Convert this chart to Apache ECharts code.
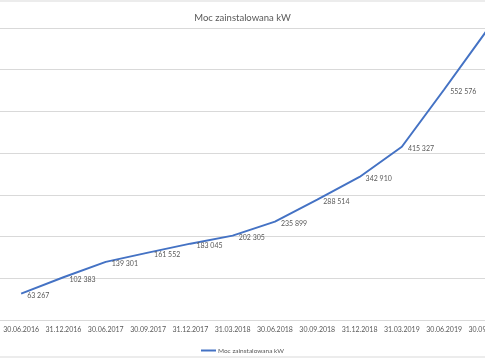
<!DOCTYPE html>
<html>
<head>
<meta charset="utf-8">
<script src="https://cdn.jsdelivr.net/npm/echarts@6/dist/echarts.min.js"></script>
<style>
html,body{margin:0;padding:0;background:#fff;}
#chart{width:485px;height:360px;}
</style>
</head>
<body>
<div id="chart"></div>
<script>
const categories = ['30.06.2016','31.12.2016','30.06.2017','30.09.2017','31.12.2017','31.03.2018','30.06.2018','30.09.2018','31.12.2018','31.03.2019','30.06.2019','30.09.2019'];
const values = [63267, 102383, 139301, 161552, 183045, 202305, 235899, 288514, 342910, 415327, 552576, 693000];
const seriesName = 'Moc zainstalowana kW';
const titleText = 'Moc zainstalowana kW';

const fmt = v => String(v).replace(/\B(?=(\d{3})+(?!\d))/g, ' ');
const font = 'Lato';
const chart = echarts.init(document.getElementById('chart'), null, {renderer:'canvas'});
chart.setOption({
  animation: false,
  backgroundColor: '#fff',
  textStyle: {fontFamily: font},
  title: {
    text: titleText, left: 'center', top: 8,
    textStyle: {fontSize: 9.5, fontWeight: 'normal', color: '#595959', fontFamily: font}
  },
  legend: {
    data: [seriesName], left: 'center', top: 342,
    icon: 'rect', itemWidth: 15, itemHeight: 2, itemGap: 2,
    textStyle: {fontSize: 6.5, color: '#595959', fontFamily: font, padding: [0,0,0,-3]}
  },
  grid: {left: 0, top: 28, width: 507.6, height: 292, containLabel: false, outerBoundsMode: 'none'},
  xAxis: {
    type: 'category', data: categories, boundaryGap: true,
    axisLine: {lineStyle: {color: '#d9d9d9', width: 1}},
    axisTick: {show: false},
    axisLabel: {fontSize: 7, color: '#595959', margin: 6, interval: 0, fontFamily: font, hideOverlap: false}
  },
  yAxis: {
    type: 'value', min: 0, max: 700000, interval: 100000,
    axisLabel: {show: false}, axisLine: {show: false}, axisTick: {show: false},
    splitLine: {lineStyle: {color: '#d9d9d9', width: 1}}
  },
  graphic: [
    {type: 'line', shape: {x1: 0, y1: 1, x2: 485, y2: 1}, style: {stroke: '#d9d9d9', lineWidth: 1}},
    {type: 'line', shape: {x1: 0, y1: 357, x2: 485, y2: 357}, style: {stroke: '#d9d9d9', lineWidth: 1}}
  ],
  series: [{
    name: seriesName, type: 'line', data: values,
    symbol: 'circle', symbolSize: 0.1, showSymbol: true,
    lineStyle: {color: '#4472C4', width: 2},
    itemStyle: {color: '#4472C4'},
    label: {
      show: true, position: 'right', distance: 6, offset: [0, 2],
      fontSize: 7, color: '#595959', fontFamily: font,
      formatter: p => fmt(p.value)
    }
  }]
});
</script>
</body>
</html>
